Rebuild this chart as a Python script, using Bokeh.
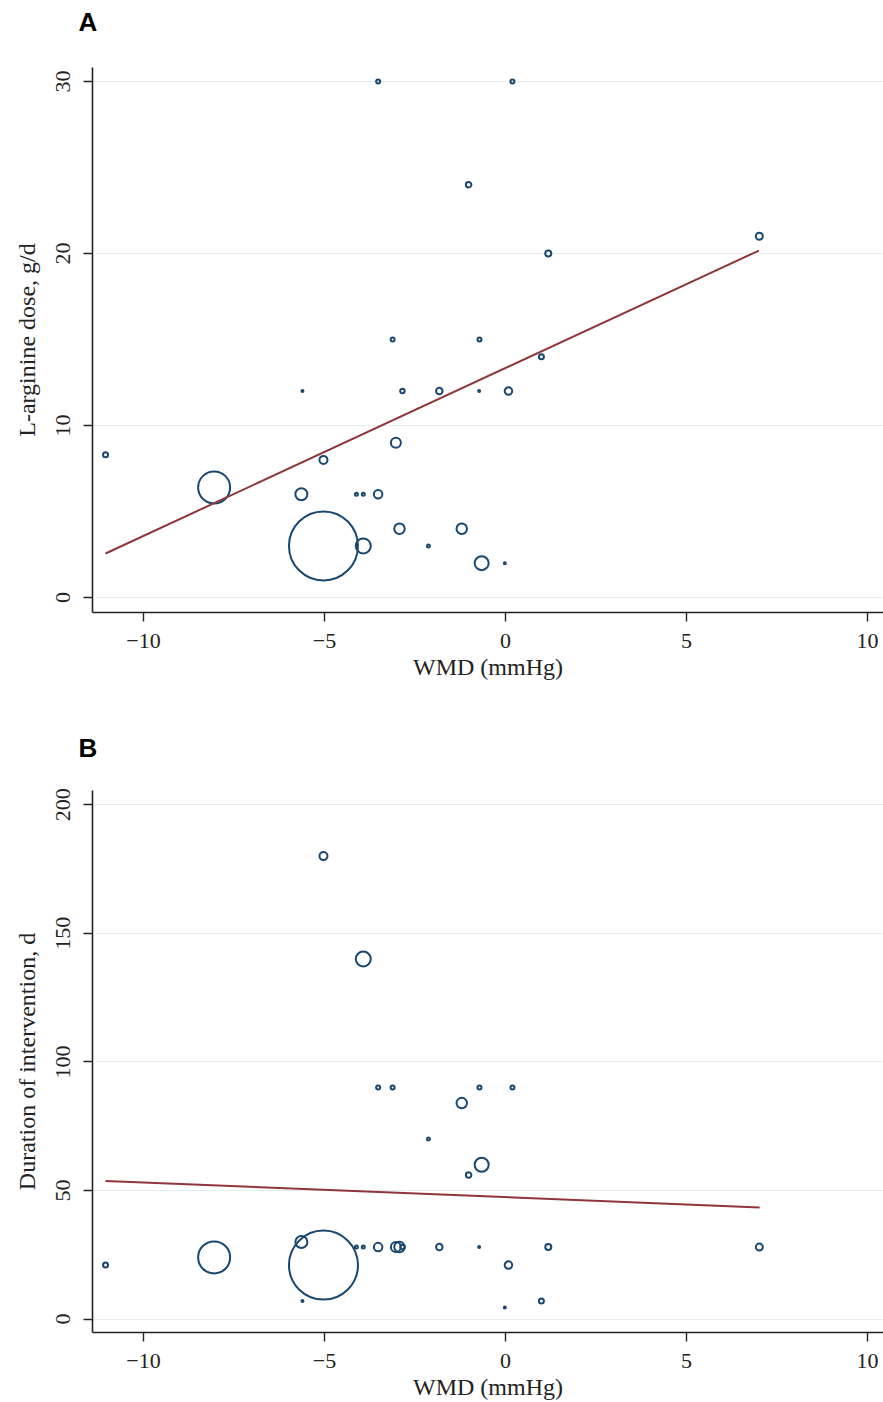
import numpy as np
from bokeh.plotting import figure
from bokeh.layouts import column
from bokeh.models import Range1d, FixedTicker, ColumnDataSource
from bokeh.embed import file_html
from bokeh.resources import INLINE

# ---- data ----
wmd = [-11.05, -8.05, -5.03, -5.03, -5.64, -5.61, -4.12, -3.93, -3.93, -3.52,
       -3.52, -3.12, -3.03, -2.93, -2.85, -2.13, -1.83, -1.21, -1.02, -0.72,
       -0.73, -0.66, -0.02, 0.08, 0.19, 0.99, 1.18, 7.01]
dose = [8.3, 6.4, 3, 8, 6, 12, 6, 6, 3, 6,
        30, 15, 9, 4, 12, 3, 12, 4, 24, 15,
        12, 2, 2, 12, 30, 14, 20, 21]
duration = [21, 24, 21, 180, 30, 7, 28, 28, 140, 28,
            90, 90, 28, 28, 28, 70, 28, 84, 56, 90,
            28, 60, 4.5, 21, 90, 7, 28, 28]
weight = [0.49, 11.56, 50.4, 1.0, 1.96, 0.16, 0.25, 0.25, 2.89, 1.1,
          0.36, 0.36, 1.44, 1.56, 0.42, 0.25, 0.72, 1.56, 0.56, 0.36,
          0.16, 2.56, 0.09, 0.9, 0.36, 0.49, 0.64, 0.81]

fit_a_x = [-11.05, 7.0]
fit_a_y = [2.56, 20.17]
fit_b_x = [-11.05, 7.02]
fit_b_y = [53.7, 43.4]

x_ticks = [-10, -5, 0, 5, 10]
a_ticks = [0, 10, 20, 30]
b_ticks = [0, 50, 100, 150, 200]

NAVY = "#1a476f"
MAROON = "#90353b"
GRID = "#e4ecef"
SERIF = "Liberation Serif"

sizes = [max(2.0, 10 * np.sqrt(w) - 2.0) for w in weight]
src = ColumnDataSource(dict(wmd=wmd, dose=dose, duration=duration, size=sizes))


def make_panel(letter, ycol, yticks, ylabel, fx, fy, yr, height, top, bottom, t_standoff):
    p = figure(width=883, height=height, output_backend="svg", toolbar_location=None,
               x_range=Range1d(-11.41, 10.44), y_range=Range1d(*yr),
               min_border_left=92, min_border_right=0, min_border_top=top,
               min_border_bottom=bottom)
    p.outline_line_color = None
    p.background_fill_color = "white"
    p.border_fill_color = "white"

    p.title.text = letter
    p.title.text_font = "Liberation Sans"
    p.title.text_font_style = "bold"
    p.title.text_font_size = "26px"
    p.title.text_color = "black"
    p.title.align = "left"
    p.title.offset = -14
    p.title.standoff = t_standoff

    p.scatter("wmd", ycol, source=src, size="size", marker="circle",
              fill_color=None, line_color=NAVY, line_width=2.0)
    p.line(fx, fy, line_color=MAROON, line_width=2)

    p.xgrid.grid_line_color = None
    p.ygrid.grid_line_color = GRID
    p.ygrid.grid_line_width = 1.2

    for ax in (p.xaxis[0], p.yaxis[0]):
        ax.axis_line_color = "#222222"
        ax.axis_line_width = 1.6
        ax.major_tick_line_color = "#222222"
        ax.major_tick_line_width = 1.4
        ax.major_tick_out = 9
        ax.major_tick_in = 0
        ax.minor_tick_line_color = None
        ax.major_label_text_font = SERIF
        ax.major_label_text_font_size = "22px"
        ax.major_label_text_color = "#222222"
        ax.axis_label_text_font = SERIF
        ax.axis_label_text_font_size = "24px"
        ax.axis_label_text_font_style = "normal"
        ax.axis_label_text_color = "#222222"

    p.xaxis.ticker = FixedTicker(ticks=x_ticks)
    p.xaxis.major_label_overrides = {-10: "\u221210", -5: "\u22125"}
    p.xaxis.axis_label = "WMD (mmHg)"
    p.xaxis.major_label_standoff = 12
    p.xaxis.axis_label_standoff = 3

    p.yaxis.ticker = FixedTicker(ticks=yticks)
    p.yaxis.major_label_orientation = "parallel"
    p.yaxis.axis_label = ylabel
    p.yaxis.major_label_standoff = 13
    p.yaxis.axis_label_standoff = 14
    return p


# panel A: a blank second line lifts the bold letter towards the top of the page
pa = make_panel("A\n\u00a0", "dose", a_ticks, "L-arginine dose, g/d", fit_a_x, fit_a_y,
                (-0.87, 30.81), 696, 67, 84, 1)
pb = make_panel("B", "duration", b_ticks, "Duration of intervention, d", fit_b_x, fit_b_y,
                (-5.2, 205.5), 706, 94, 68, 56)

layout = column(pa, pb, spacing=0)
open("out.html", "w").write(file_html(layout, INLINE))
